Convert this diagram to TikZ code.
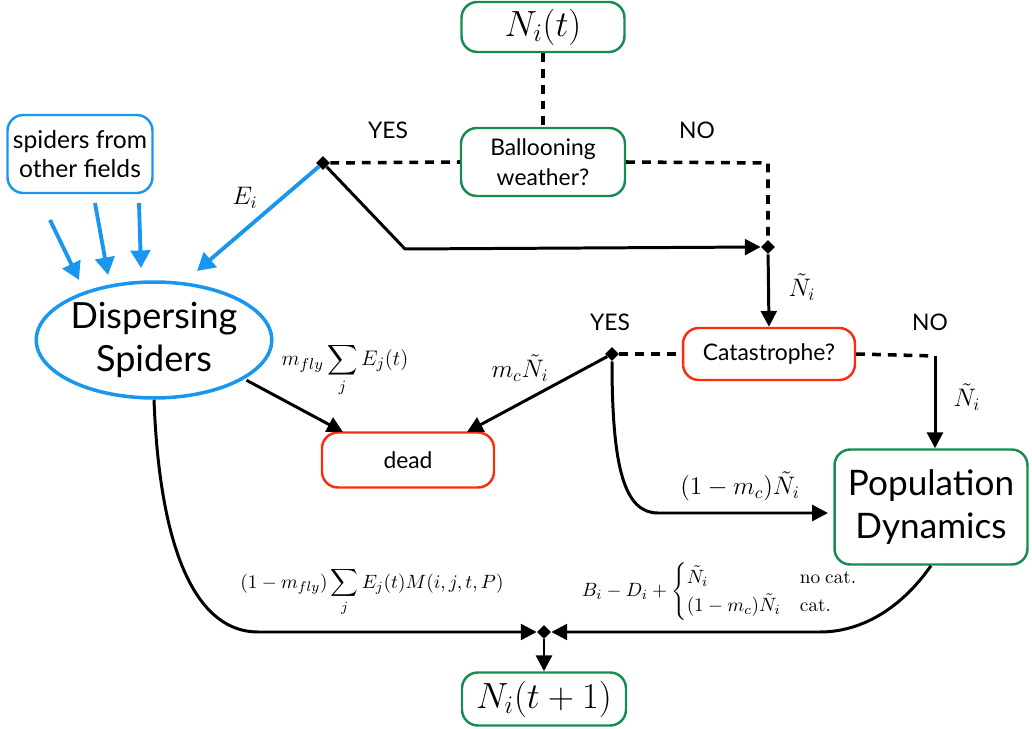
\documentclass[tikz,border=0pt]{standalone}
\usepackage{amsmath}
\usepackage[no-math]{fontspec}
\setmainfont{Lato}
\usetikzlibrary{arrows.meta,shapes.geometric,positioning}
\definecolor{boxgreen}{RGB}{22,140,82}
\definecolor{boxred}{RGB}{250,45,15}
\definecolor{boxblue}{RGB}{25,150,240}
\begin{document}
\begin{tikzpicture}[x=0.02cm, y=-0.02cm, line join=round, >={Triangle[length=9pt,width=9pt]},
		box/.style={draw, rounded corners=9pt, line width=1.4pt, align=center, inner sep=0pt},
		dia/.style={diamond, fill=black, inner sep=0pt, minimum size=8pt},
		flow/.style={line width=1.7pt},
		ask/.style={line width=2pt, dash pattern=on 5pt off 4pt},
		lab/.style={font=\fontsize{13}{15}\selectfont},
		mlab/.style={font=\fontsize{14.5}{17}\selectfont},
		eqn/.style={font=\fontsize{11}{13}\selectfont}
		]
		\useasboundingbox (0,0) rectangle (1032,729);
		% boxes
		\node[box, boxgreen, text=black, minimum width=3.26cm, minimum height=1cm, font=\fontsize{20}{24}\selectfont] (nt) at (543,27) {$N_i(t)$};
		\node[box, boxgreen, text=black, minimum width=3.28cm, minimum height=1.36cm, font=\fontsize{13}{17}\selectfont] (balloon) at (543,162) {Ballooning\\weather?};
		\node[box, boxblue, text=black, minimum width=2.9cm, minimum height=1.56cm, font=\fontsize{14}{17}\selectfont] (other) at (80,154) {spiders from\\other fields};
		\node[ellipse, draw=boxblue, line width=2pt, inner sep=0pt, minimum width=4.36cm, minimum height=2.32cm, align=center, font=\fontsize{20.5}{24}\selectfont] (disp) at (154,340) {Dispersing\\Spiders};
		\node[box, boxred, text=black, minimum width=3.44cm, minimum height=1.04cm, font=\fontsize{13}{15}\selectfont] (cat) at (769,354) {Catastrophe?};
		\node[box, boxred, text=black, minimum width=3.44cm, minimum height=1.1cm, font=\fontsize{13}{15}\selectfont] (dead) at (408,460) {dead};
		\node[box, boxgreen, text=black, minimum width=3.86cm, minimum height=2.3cm, font=\fontsize{20}{24}\selectfont] (popdyn) at (931,507) {Population\\Dynamics};
		\node[box, boxgreen, text=black, minimum width=3.28cm, minimum height=1.06cm, font=\fontsize{20}{24}\selectfont] (nt1) at (544,699) {$N_i(t+1)$};
		% branch points
		\node[dia] (byes) at (323,163) {};
		\node[dia] (bmerge) at (768,247) {};
		\node[dia] (cyes) at (612,354) {};
		\node[dia] (sum) at (544,632) {};
		\coordinate (bno) at (768,163);
		\coordinate (cno) at (935,356);
		\coordinate (bend) at (405,249);
		% ballooning decision
		\draw[ask] (nt.south) -- (balloon.north);
		\draw[ask] (byes) -- (balloon.west);
		\draw[ask] (balloon.east) -- (bno) -- (bmerge);
		\draw[flow, ->] (byes) -- (bend) -- (bmerge.west);
		\draw[flow, ->] (bmerge) -- (cat.north);
		\node[lab] at (388,130) {YES};
		\node[lab] at (697,130) {NO};
		\node[mlab] at (802,287) {$\tilde{N}_i$};
		% dispersal
		\coordinate (ei) at (197,271);
		\draw[line width=2.2pt, boxblue, ->, >={Triangle[length=10pt,width=11pt]}] (byes) -- (ei);
		\node[mlab] at (245,198) {$E_i$};
		\foreach \a/\b/\c/\d in {50/220/79/280, 95/203/108/275, 139/203/141/268}
			\draw[line width=2.2pt, boxblue, ->, >={Triangle[length=10pt,width=11pt]}] (\a,\b) -- (\c,\d);
		% catastrophe decision
		\draw[ask] (cyes) -- (cat.west);
		\draw[ask] (cat.east) -- (cno);
		\draw[flow, ->] (cno) -- (cno |- popdyn.north);
		\node[lab] at (610,322) {YES};
		\node[lab] at (930,322) {NO};
		\node[mlab] at (967,397) {$\tilde{N}_i$};
		\draw[flow, ->] (cyes) -- (467,432);
		\node[mlab] at (520,368) {$m_c\tilde{N}_i$};
		\draw[flow, ->] (disp.south east) ++(8,-2) -- (343,432);
		\node[font=\fontsize{12.5}{15}\selectfont] at (345,370) {$m_{fly}\displaystyle\sum_j E_j(t)$};
		\draw[flow, ->] (cyes) .. controls (612,470) and (625,513) .. (658,513) -- (828,513);
		\node[mlab] at (740,486) {$(1-m_c)\tilde{N}_i$};
		% next year
		\draw[flow, ->] (disp.south) .. controls (160,560) and (200,632) .. (258,632) -- (sum.west);
		\draw[flow, ->] (popdyn.south) .. controls (900,610) and (860,632) .. (820,632) -- (sum.east);
		\draw[flow, ->] (sum) -- (nt1.north);
		\node[eqn] at (372,592) {$(1-m_{fly})\displaystyle\sum_j E_j(t)M(i,j,t,P)$};
		\node[eqn] at (720,592) {$B_i-D_i+\begin{cases}\tilde{N}_i & \mathrm{no\ cat.}\\(1-m_c)\tilde{N}_i & \mathrm{cat.}\end{cases}$};
\end{tikzpicture}
\end{document}
